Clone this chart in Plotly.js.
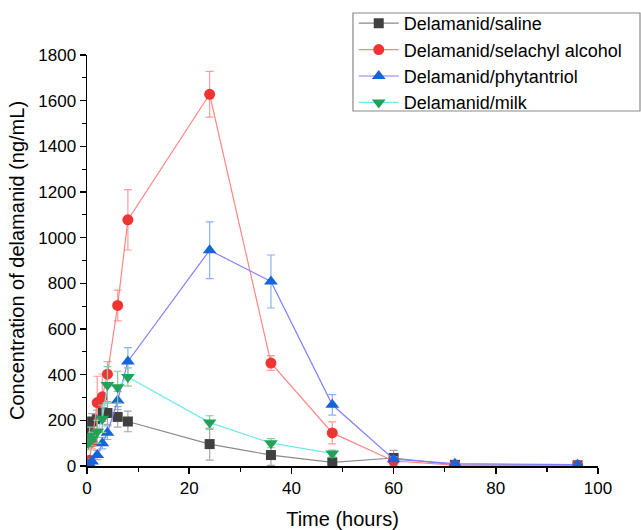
<!DOCTYPE html>
<html>
<head>
<meta charset="utf-8">
<script src="https://cdn.plot.ly/plotly-3.0.1.min.js"></script>
<style>html,body{margin:0;padding:0;background:#fff;}#chart{width:641px;height:530px;}</style>
</head>
<body>
<div id="chart"></div>
<script>
const time = [0.25, 0.5, 1, 2, 3, 4, 6, 8, 24, 36, 48, 60, 72, 96];
const timeMilk = [0.25, 0.5, 1, 2, 3, 4, 6, 8, 24, 36, 48];

const saline = [130, 155, 195, 205, 235, 232, 215, 195, 96, 48, 16, 35, 5, 3];
const salineErr = [20, 30, 35, 40, 40, 50, 45, 45, 70, 45, 10, 33, 3, 2];

const selachyl = [10, 25, 105, 278, 303, 402, 703, 1078, 1628, 451, 145, 22, 4, 3];
const selachylErr = [5, 10, 30, 115, 100, 55, 67, 132, 100, 32, 48, 10, 2, 2];

const phytantriol = [3, 8, 20, 48, 100, 146, 287, 458, 945, 808, 268, 30, 10, 6];
const phytantriolErr = [2, 5, 10, 20, 25, 30, 40, 60, 124, 116, 45, 10, 3, 2];

const milk = [100, 130, 118, 150, 207, 355, 345, 390, 190, 100, 55];
const milkErr = [30, 40, 30, 50, 60, 80, 70, 40, 30, 20, 15];

const names = ['Delamanid/saline', 'Delamanid/selachyl alcohol', 'Delamanid/phytantriol', 'Delamanid/milk'];

function tr(x, y, err, name, mcol, lcol, ecol, sym, size) {
  return {
    x: x, y: y, name: name, type: 'scatter', mode: 'lines+markers',
    line: {color: lcol, width: 1.2},
    marker: {color: mcol, symbol: sym, size: size},
    error_y: {type: 'data', array: err, visible: true, color: ecol, thickness: 1.2, width: 4}
  };
}

const data = [
  tr(time, saline, salineErr, names[0], '#404040', '#8a8a8a', '#a8a8a8', 'square', 10),
  tr(time, selachyl, selachylErr, names[1], '#f03434', '#ff8585', '#ff9c9c', 'circle', 11),
  tr(time, phytantriol, phytantriolErr, names[2], '#1464dc', '#8080ff', '#8cb0f0', 'triangle-up', 12),
  tr(timeMilk, milk, milkErr, names[3], '#23a05a', '#70e8e8', '#88c8a0', 'triangle-down', 12)
];

const layout = {
  width: 641, height: 530,
  margin: {l: 87, r: 43, t: 55, b: 64, autoexpand: false},
  paper_bgcolor: '#fff', plot_bgcolor: '#fff',
  font: {family: 'Liberation Sans, Arial, sans-serif', color: '#000', size: 17},
  showlegend: true,
  legend: {
    x: 0.522, y: 1.1217, xanchor: 'left', yanchor: 'top',
    bgcolor: 'rgba(0,0,0,0)', bordercolor: 'rgba(0,0,0,0)', borderwidth: 0,
    font: {size: 18, family: 'Liberation Sans, Arial, sans-serif'},
    itemwidth: 40, tracegroupgap: 0
  },
  shapes: [{
    type: 'rect', xref: 'paper', yref: 'paper',
    x0: 0.5205, x1: 1.0822, y0: 0.8637, y1: 1.1022,
    line: {color: '#8a8a8a', width: 1.2}, fillcolor: '#fff', layer: 'above'
  }],
  xaxis: {
    range: [0, 100], dtick: 20, tick0: 0,
    showgrid: false, zeroline: false,
    showline: true, linecolor: '#000', linewidth: 1.5,
    ticks: 'outside', ticklen: 6, tickwidth: 1.5, tickcolor: '#000',
    minor: {dtick: 10, ticks: 'outside', ticklen: 4, tickwidth: 1.2, tickcolor: '#000'},
    tickfont: {size: 17},
    title: {text: 'Time (hours)', font: {size: 20}, standoff: 16}
  },
  yaxis: {
    range: [0, 1800], dtick: 200, tick0: 0,
    showgrid: false, zeroline: false,
    showline: true, linecolor: '#000', linewidth: 1.5,
    ticks: 'outside', ticklen: 6, tickwidth: 1.5, tickcolor: '#000',
    minor: {dtick: 100, ticks: 'outside', ticklen: 4, tickwidth: 1.2, tickcolor: '#000'},
    tickfont: {size: 17},
    title: {text: 'Concentration of delamanid (ng/mL)', font: {size: 20}, standoff: 8}
  }
};

Plotly.newPlot('chart', data, layout, {displayModeBar: false, staticPlot: true});
</script>
</body>
</html>
